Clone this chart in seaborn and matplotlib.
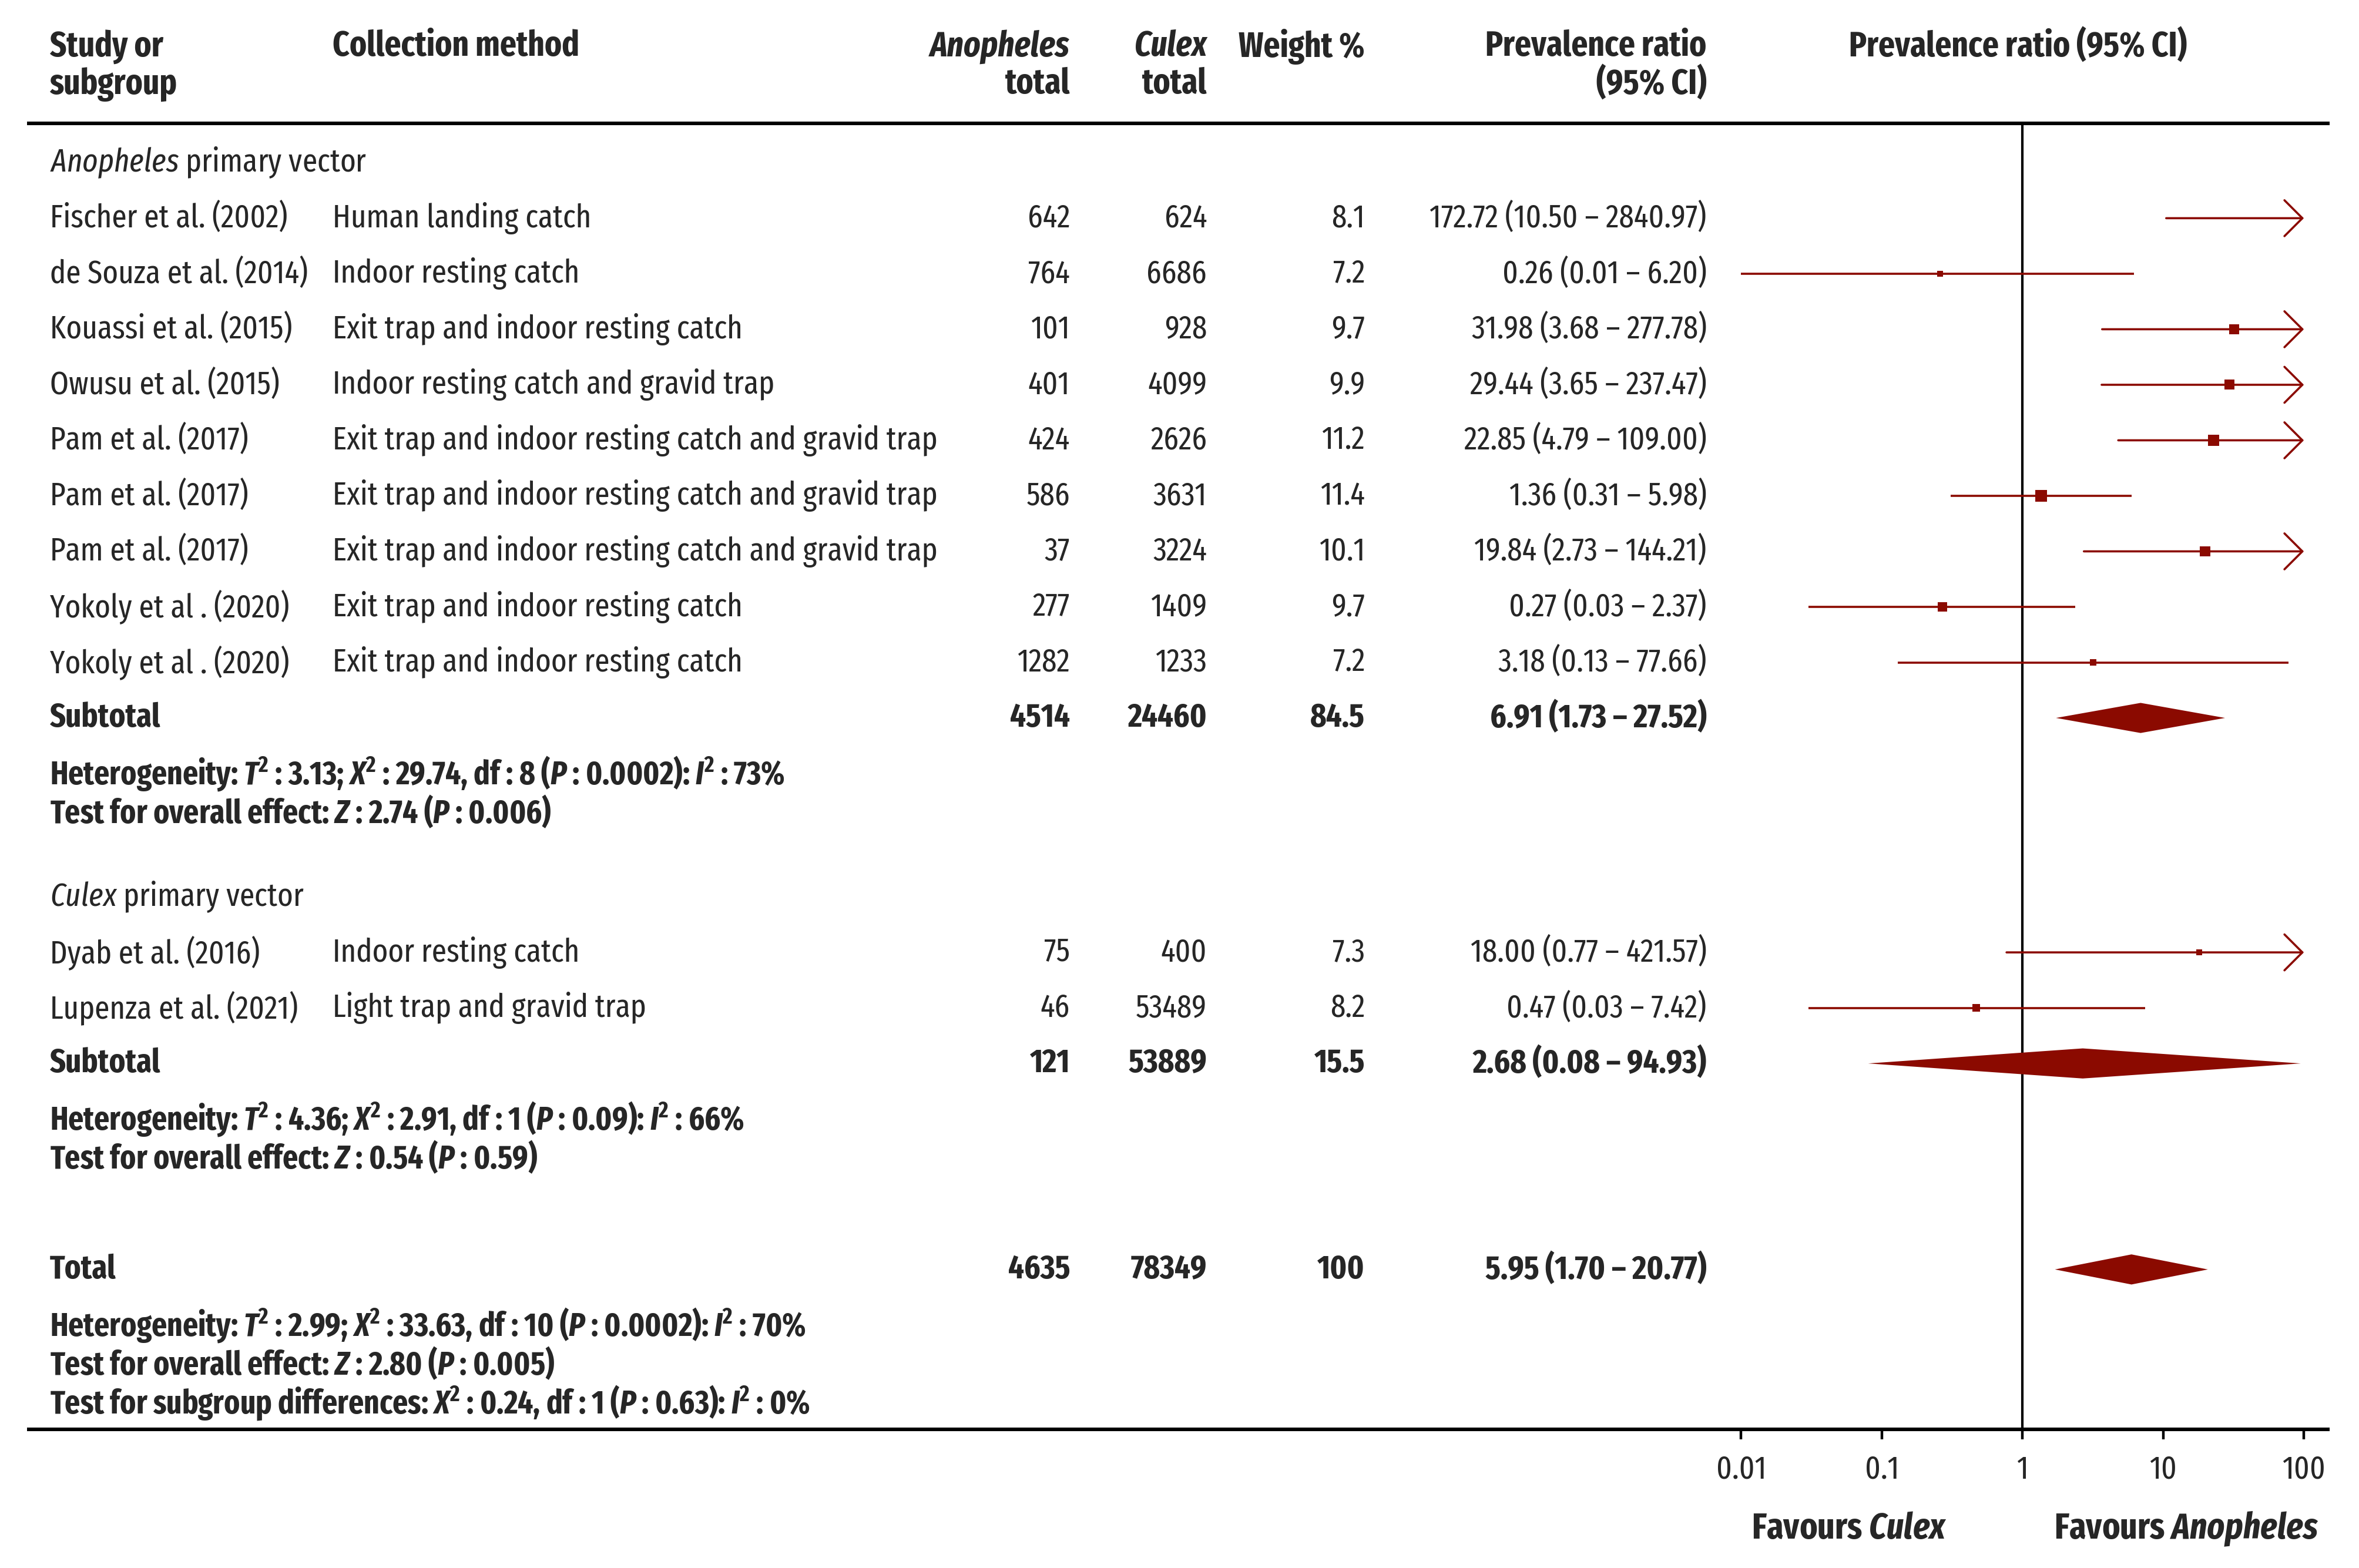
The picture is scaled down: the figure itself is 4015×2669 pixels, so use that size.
import matplotlib
matplotlib.use("Agg")
import matplotlib.pyplot as plt
import numpy as np
import pandas as pd
import seaborn as sns

# данные исследований
studies = ["Fischer et al. (2002)", "de Souza et al. (2014)", "Kouassi et al. (2015)",
           "Owusu et al. (2015)", "Pam et al. (2017)", "Pam et al. (2017)", "Pam et al. (2017)",
           "Yokoly et al . (2020)", "Yokoly et al . (2020)",
           "Dyab et al. (2016)", "Lupenza et al. (2021)"]
methods = ["Human landing catch", "Indoor resting catch", "Exit trap and indoor resting catch",
           "Indoor resting catch and gravid trap",
           "Exit trap and indoor resting catch and gravid trap",
           "Exit trap and indoor resting catch and gravid trap",
           "Exit trap and indoor resting catch and gravid trap",
           "Exit trap and indoor resting catch", "Exit trap and indoor resting catch",
           "Indoor resting catch", "Light trap and gravid trap"]
anoph_total = [642, 764, 101, 401, 424, 586, 37, 277, 1282, 75, 46]
culex_total = [624, 6686, 928, 4099, 2626, 3631, 3224, 1409, 1233, 400, 53489]
weight = [8.1, 7.2, 9.7, 9.9, 11.2, 11.4, 10.1, 9.7, 7.2, 7.3, 8.2]
pr = [172.72, 0.26, 31.98, 29.44, 22.85, 1.36, 19.84, 0.27, 3.18, 18.00, 0.47]
pr_lo = [10.50, 0.01, 3.68, 3.65, 4.79, 0.31, 2.73, 0.03, 0.13, 0.77, 0.03]
pr_hi = [2840.97, 6.20, 277.78, 237.47, 109.00, 5.98, 144.21, 2.37, 77.66, 421.57, 7.42]

# итоги: подгруппа Anopheles, подгруппа Culex, всего
sum_labels = ["Subtotal", "Subtotal", "Total"]
sum_anoph = [4514, 121, 4635]
sum_culex = [24460, 53889, 78349]
sum_weight = [84.5, 15.5, 100]
sum_pr = [6.91, 2.68, 5.95]
sum_lo = [1.73, 0.08, 1.70]
sum_hi = [27.52, 94.93, 20.77]

het_lines = [
    [r"Heterogeneity: $\mathbfit{T}^{\mathbf{2}}$ : 3.13; $\mathbfit{X}^{\mathbf{2}}$ : 29.74, df : 8 ($\mathbfit{P}$ : 0.0002): $\mathbfit{I}^{\mathbf{2}}$ : 73%",
     r"Test for overall effect: $\mathbfit{Z}$ : 2.74 ($\mathbfit{P}$ : 0.006)"],
    [r"Heterogeneity: $\mathbfit{T}^{\mathbf{2}}$ : 4.36; $\mathbfit{X}^{\mathbf{2}}$ : 2.91, df : 1 ($\mathbfit{P}$ : 0.09): $\mathbfit{I}^{\mathbf{2}}$ : 66%",
     r"Test for overall effect: $\mathbfit{Z}$ : 0.54 ($\mathbfit{P}$ : 0.59)"],
    [r"Heterogeneity: $\mathbfit{T}^{\mathbf{2}}$ : 2.99; $\mathbfit{X}^{\mathbf{2}}$ : 33.63, df : 10 ($\mathbfit{P}$ : 0.0002): $\mathbfit{I}^{\mathbf{2}}$ : 70%",
     r"Test for overall effect: $\mathbfit{Z}$ : 2.80 ($\mathbfit{P}$ : 0.005)",
     r"Test for subgroup differences: $\mathbfit{X}^{\mathbf{2}}$ : 0.24, df : 1 ($\mathbfit{P}$ : 0.63): $\mathbfit{I}^{\mathbf{2}}$ : 0%"],
]
group_titles = [r"$\mathit{Anopheles}$ primary vector", r"$\mathit{Culex}$ primary vector"]
xticks = [0.01, 0.1, 1, 10, 100]
xtick_labels = ["0.01", "0.1", "1", "10", "100"]

RED = "#8b0a00"
BASE = "Fira Sans Extra Condensed"

sns.set_theme(style="white")
plt.rcParams["font.family"] = [BASE, "DejaVu Sans"]
plt.rcParams["mathtext.fontset"] = "custom"
plt.rcParams["mathtext.rm"] = BASE
plt.rcParams["mathtext.it"] = BASE + ":italic"
plt.rcParams["mathtext.bf"] = BASE + ":bold"
plt.rcParams["mathtext.bfit"] = BASE + ":italic:bold"

FS = 20        # обычные строки
FS_HEAD = 21.5 # шапка
FS_SUM = 20.5  # итоги
FS_HET = 20    # гетерогенность
FS_FAV = 22.5  # подписи Favours
W, H = 1568, 1042   # единицы разметки (как у картинки-образца)

fig = plt.figure(figsize=(20.08, 13.345), dpi=200)
tab = fig.add_axes([0, 0, 1, 1])
tab.set_xlim(0, W)
tab.set_ylim(H, 0)
tab.axis("off")

# колонки
x_study, x_method, x_an, x_cx, x_w, x_pr = 33, 221, 711, 802, 907, 1134
x_lo, x_hi = 1157, 1531
y_top, y_bot = 82, 950

# позиции строк
dy = 36.9
y_g1 = 108
y_rows = [145 + i * dy for i in range(9)]
y_sub1 = 145 + 9 * dy
y_het1 = [y_sub1 + dy, y_sub1 + dy + 26]
y_g2 = y_het1[1] + 56
y_rows += [y_g2 + dy, y_g2 + 2 * dy]
y_sub2 = y_g2 + 3 * dy
y_het2 = [y_sub2 + dy, y_sub2 + dy + 26]
y_tot = y_het2[1] + 74
y_het3 = [y_tot + dy, y_tot + dy + 26, y_tot + dy + 52]
y_sums = [y_sub1, y_sub2, y_tot]
y_hets = [y_het1, y_het2, y_het3]

# шапка
hb = dict(fontsize=FS_HEAD, fontweight="bold", va="center")
tab.text(x_study, 31, "Study or", **hb)
tab.text(x_study, 56, "subgroup", **hb)
tab.text(x_method, 31, "Collection method", **hb)
tab.text(x_an, 31, "Anopheles", style="italic", ha="right", **hb)
tab.text(x_an, 56, "total", ha="right", **hb)
tab.text(x_cx, 31, "Culex", style="italic", ha="right", **hb)
tab.text(x_cx, 56, "total", ha="right", **hb)
tab.text(x_w, 31, "Weight %", ha="right", **hb)
tab.text(x_pr, 31, "Prevalence ratio", ha="right", **hb)
tab.text(x_pr, 56, "(95% CI)", ha="right", **hb)
tab.text(1341, 31, "Prevalence ratio (95% CI)", ha="center", **hb)

tab.plot([18, 1548], [y_top, y_top], color="black", lw=2.2, solid_capstyle="butt")
tab.plot([18, 1548], [y_bot, y_bot], color="black", lw=2.2, solid_capstyle="butt")

tab.text(x_study, y_g1, group_titles[0], fontsize=FS, va="center")
tab.text(x_study, y_g2, group_titles[1], fontsize=FS, va="center")

def fmt_pr(p, lo, hi):
    return f"{p:.2f} ({lo:.2f} \u2013 {hi:.2f})"

# строки исследований
for i in range(len(studies)):
    y = y_rows[i]
    tab.text(x_study, y, studies[i], fontsize=FS, va="center")
    tab.text(x_method, y, methods[i], fontsize=FS, va="center")
    tab.text(x_an, y, str(anoph_total[i]), fontsize=FS, va="center", ha="right")
    tab.text(x_cx, y, str(culex_total[i]), fontsize=FS, va="center", ha="right")
    tab.text(x_w, y, f"{weight[i]:g}", fontsize=FS, va="center", ha="right")
    tab.text(x_pr, y, fmt_pr(pr[i], pr_lo[i], pr_hi[i]), fontsize=FS, va="center", ha="right")

# итоги и гетерогенность
sb = dict(fontsize=FS_SUM, fontweight="bold", va="center")
for k in range(3):
    y = y_sums[k]
    tab.text(x_study, y, sum_labels[k], **sb)
    tab.text(x_an, y, str(sum_anoph[k]), ha="right", **sb)
    tab.text(x_cx, y, str(sum_culex[k]), ha="right", **sb)
    tab.text(x_w, y, f"{sum_weight[k]:g}", ha="right", **sb)
    tab.text(x_pr, y, fmt_pr(sum_pr[k], sum_lo[k], sum_hi[k]), ha="right", **sb)
    for line, yy in zip(het_lines[k], y_hets[k]):
        tab.text(x_study, yy, line, fontsize=FS_HET, fontweight="bold", va="center")

# ----------------------------------------------------------------------------
#                         сам форест-плот
# ----------------------------------------------------------------------------
ax = fig.add_axes([x_lo / W, 1 - y_bot / H, (x_hi - x_lo) / W, (y_bot - y_top) / H])
ax.set_xscale("log")
ax.set_xlim(0.01, 100)
ax.set_ylim(y_bot, y_top)
ax.patch.set_alpha(0)
for s in ["top", "left", "right", "bottom"]:
    ax.spines[s].set_visible(False)
ax.axvline(1, color="black", lw=1.5, zorder=1)

df = pd.DataFrame({"study": studies, "pr": pr, "lo": pr_lo, "hi": pr_hi,
                   "weight": weight, "y": y_rows})
xmax = ax.get_xlim()[1]
for _, r in df.iterrows():
    lo = max(r["lo"], 0.01)
    if r["hi"] > xmax:
        # верхняя граница за пределами шкалы - стрелка
        ax.annotate("", xy=(xmax, r["y"]), xytext=(lo, r["y"]),
                    arrowprops=dict(arrowstyle="->,head_length=0.55,head_width=0.55",
                                    color=RED, lw=1.3, shrinkA=0, shrinkB=0,
                                    mutation_scale=20),
                    annotation_clip=False)
    else:
        ax.hlines(r["y"], lo, r["hi"], color=RED, lw=1.3, zorder=2)

sns.scatterplot(data=df[df["pr"] < xmax], x="pr", y="y", size="weight", sizes=(14, 50),
                marker="s", color=RED, linewidth=0, legend=False, ax=ax, zorder=3)

# ромбы итогов
for k in range(3):
    y = y_sums[k]
    h = 10
    ax.fill([sum_lo[k], sum_pr[k], sum_hi[k], sum_pr[k]], [y, y - h, y, y + h],
            color=RED, lw=0, zorder=3)

ax.set_xticks(xticks)
ax.set_xticklabels(xtick_labels)
ax.minorticks_off()
ax.tick_params(axis="x", direction="out", length=6, width=1.6, color="black",
               labelsize=FS, pad=9, bottom=True)
ax.tick_params(axis="y", left=False, labelleft=False)
ax.set_xlabel("")
ax.set_ylabel("")

fb = dict(fontsize=FS_FAV, fontweight="bold", va="center", ha="center")
tab.text(1229, 1016, r"Favours $\mathbfit{Culex}$", **fb)
tab.text(1453, 1016, r"Favours $\mathbfit{Anopheles}$", **fb)

fig.savefig("out.png", dpi=200)
